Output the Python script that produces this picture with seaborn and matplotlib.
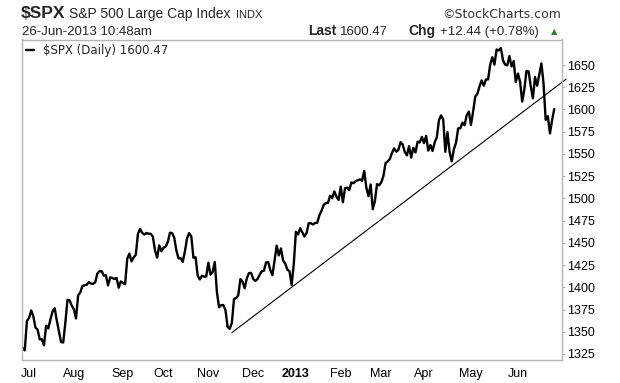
import numpy as np
import pandas as pd
import matplotlib
matplotlib.use("Agg")
import matplotlib.pyplot as plt
import seaborn as sns

# ---- daily closes of $SPX (by month) ----
jun12 = [1331.85, 1329.04, 1362.16]
jul12 = [1365.51, 1374.02, 1367.58, 1354.68, 1352.46, 1341.47, 1341.45, 1334.76, 1356.78, 1353.64,
         1363.67, 1372.78, 1376.51, 1362.66, 1350.52, 1338.31, 1337.89, 1360.02, 1385.97, 1385.30, 1379.32]
aug12 = [1375.32, 1365.00, 1390.99, 1394.23, 1401.35, 1402.22, 1402.80, 1405.87, 1404.11, 1403.93,
         1405.53, 1415.51, 1418.16, 1418.13, 1413.17, 1413.49, 1402.08, 1411.13, 1410.44, 1409.30,
         1410.49, 1399.48, 1406.58]
sep12 = [1404.94, 1403.44, 1432.12, 1437.92, 1429.08, 1433.56, 1436.56, 1459.99, 1465.77, 1461.19,
         1459.32, 1461.05, 1460.26, 1460.15, 1456.89, 1441.59, 1433.32, 1447.15, 1440.67]
oct12 = [1444.49, 1445.75, 1450.99, 1461.40, 1460.93, 1455.88, 1441.48, 1432.56, 1432.84, 1428.59,
         1440.13, 1454.92, 1460.91, 1457.34, 1433.19, 1433.82, 1413.11, 1408.75, 1412.97, 1411.94, 1412.16]
nov12 = [1427.59, 1414.20, 1417.26, 1428.39, 1394.53, 1377.51, 1379.85, 1380.03, 1374.53, 1355.49,
         1353.33, 1359.88, 1386.89, 1387.81, 1391.03, 1409.15, 1406.29, 1398.94, 1409.93, 1415.95, 1416.18]
dec12 = [1409.46, 1407.05, 1409.28, 1413.94, 1418.07, 1418.55, 1427.84, 1428.48, 1419.45, 1413.58,
         1430.36, 1446.79, 1435.81, 1443.69, 1430.15, 1426.66, 1419.83, 1418.10, 1402.43, 1426.19]
jan13 = [1462.42, 1459.37, 1466.47, 1461.89, 1457.15, 1461.02, 1472.12, 1472.05, 1470.68, 1472.34,
         1472.63, 1480.94, 1485.98, 1492.56, 1494.81, 1494.82, 1502.96, 1500.18, 1507.84, 1501.96, 1498.11]
feb13 = [1513.17, 1495.71, 1511.29, 1512.12, 1509.39, 1517.93, 1517.01, 1519.43, 1520.33, 1521.38,
         1519.79, 1530.94, 1511.95, 1502.42, 1515.60, 1487.85, 1496.94, 1515.99, 1514.68]
mar13 = [1518.20, 1525.20, 1539.79, 1541.46, 1544.26, 1551.18, 1556.22, 1552.48, 1554.52, 1563.23,
         1560.70, 1552.10, 1548.34, 1558.71, 1545.80, 1556.89, 1551.69, 1563.77, 1562.85, 1569.19]
apr13 = [1562.17, 1570.25, 1553.69, 1559.98, 1553.28, 1563.07, 1568.61, 1587.73, 1593.37, 1588.85,
         1552.36, 1574.57, 1552.01, 1541.61, 1555.25, 1562.50, 1578.78, 1578.79, 1585.16, 1582.24,
         1593.61, 1597.57]
may13 = [1582.70, 1597.59, 1614.42, 1617.50, 1625.96, 1632.69, 1626.67, 1633.70, 1633.77, 1650.34,
         1658.78, 1650.47, 1667.47, 1666.29, 1669.16, 1655.35, 1650.51, 1649.60, 1660.06, 1648.36,
         1654.41, 1630.74]
jun13 = [1640.42, 1631.38, 1608.90, 1622.56, 1643.38, 1642.81, 1626.13, 1612.52, 1636.36, 1626.73,
         1639.04, 1651.81, 1628.93, 1588.19, 1592.43, 1573.09, 1588.03, 1600.47]

market_holidays = ["2012-07-04", "2012-09-03", "2012-10-29", "2012-10-30", "2012-11-22",
                   "2012-12-25", "2013-01-01", "2013-01-21", "2013-02-18", "2013-03-29", "2013-05-27"]
month_labels = ["Jul", "Aug", "Sep", "Oct", "Nov", "Dec", "2013", "Feb", "Mar", "Apr", "May", "Jun"]
y_ticks = [1325, 1350, 1375, 1400, 1425, 1450, 1475, 1500, 1525, 1550, 1575, 1600, 1625, 1650]

# trend line anchors (date, value)
trend_dates = ["2012-11-16", "2013-06-26"]
trend_values = [1349.0, 1624.0]

# ---- build table ----
closes = jun12 + jul12 + aug12 + sep12 + oct12 + nov12 + dec12 + jan13 + feb13 + mar13 + apr13 + may13 + jun13
dates = pd.bdate_range("2012-06-27", "2013-06-26")
dates = dates[~dates.isin(pd.to_datetime(market_holidays))]
n = min(len(dates), len(closes))
df = pd.DataFrame({"date": dates[:n], "close": closes[:n], "idx": np.arange(n)})

first_idx = df.groupby(df["date"].dt.to_period("M"))["idx"].first()
tick_pos = list(first_idx.values[1:1 + len(month_labels)])

# trend line in trading-day index space, extended slightly beyond the frame
pos = df.set_index("date")["idx"]
ti = [pos[pd.Timestamp(d)] for d in trend_dates]
slope = (trend_values[1] - trend_values[0]) / (ti[1] - ti[0])
x_right = n - 1 + 3.5
ext = x_right + 2.1
trend_df = pd.DataFrame({"idx": [ti[0], ext],
                         "val": [trend_values[0], trend_values[0] + slope * (ext - ti[0])]})

# ---- figure ----
sns.set_style("white")
plt.rcParams["font.family"] = ["Liberation Sans", "DejaVu Sans"]

W, H = 620, 383
fig = plt.figure(figsize=(W / 100, H / 100), dpi=100)
left, right, top, bottom = 22, 561.7, 39.5, 360
ax = fig.add_axes([left / W, (H - bottom) / H, (right - left) / W, (bottom - top) / H])

sns.lineplot(data=df, x="idx", y="close", ax=ax, color="black", linewidth=1.7,
             label="\\$SPX (Daily) 1600.47")
sns.lineplot(data=trend_df, x="idx", y="val", ax=ax, color="black", linewidth=0.8,
             clip_on=False, legend=False)

ax.set_xlim(-0.3, x_right)
ax.set_ylim(1318.2, 1678.7)
ax.set_xlabel("")
ax.set_ylabel("")

gray = "#b5b5b5"
for s in ax.spines.values():
    s.set_color(gray)
    s.set_linewidth(1.0)

ax.set_xticks(tick_pos)
ax.set_xticklabels(month_labels)
for lbl in ax.get_xticklabels():
    if lbl.get_text() == "2013":
        lbl.set_fontweight("bold")
ax.tick_params(axis="x", direction="out", length=2.5, width=0.8, color=gray, pad=3,
               labelsize=9, labelcolor="black")

ax.yaxis.tick_right()
ax.set_yticks(y_ticks)
ax.set_yticklabels([str(v) for v in y_ticks])
ax.tick_params(axis="y", direction="out", length=2.5, width=0.8, color=gray, pad=1.2,
               labelsize=9, labelcolor="black")

leg = ax.legend(loc="upper left", frameon=False, handlelength=0.7, handletextpad=0.75,
                borderpad=0.1, borderaxespad=0.25, prop={"family": "DejaVu Sans", "size": 8.5})

# ---- header texts ----
def fx(x):
    return x / W

def fy(y):
    return 1 - y / H

fig.text(fx(21), fy(18), "\\$SPX", fontsize=12.5, fontweight="bold", va="baseline", ha="left")
fig.text(fx(69), fy(18), "S&P 500 Large Cap Index", fontsize=10, va="baseline", ha="left")
fig.text(fx(236), fy(18), "INDX", fontsize=8, va="baseline", ha="left")
fig.text(fx(561), fy(18), "\u00a9StockCharts.com", fontsize=9, va="baseline", ha="right",
         family="DejaVu Sans", color="#333333")

fig.text(fx(22), fy(35), "26-Jun-2013 10:48am", fontsize=9.5, va="baseline", ha="left")
fig.text(fx(308), fy(35), "Last", fontsize=10, fontweight="bold", va="baseline", ha="left")
fig.text(fx(340), fy(35), "1600.47", fontsize=9.5, va="baseline", ha="left")
fig.text(fx(408), fy(35), "Chg", fontsize=10, fontweight="bold", va="baseline", ha="left")
fig.text(fx(440), fy(35), "+12.44 (+0.78%)", fontsize=9.5, va="baseline", ha="left")
fig.text(fx(551), fy(34.5), "\u25b2", fontsize=6, va="baseline", ha="left",
         family="DejaVu Sans", color="#2e7d32")

fig.savefig("out.png", dpi=100)
